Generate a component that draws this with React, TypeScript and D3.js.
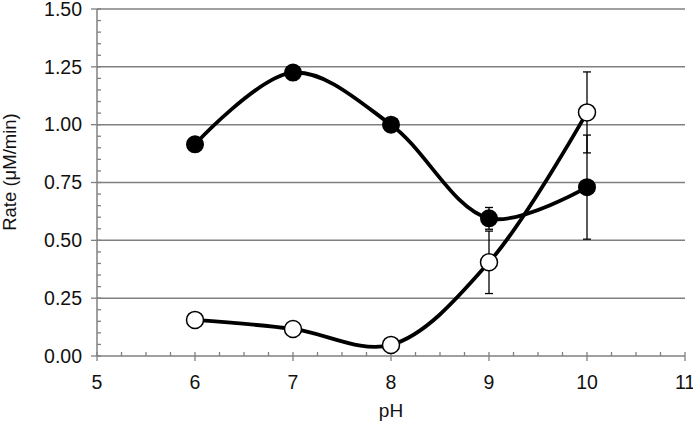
import React from 'react';
import * as d3 from 'd3';

// pH values and measured rates (µM/min)
const phValues = [6, 7, 8, 9, 10];
const filledRates = [0.915, 1.225, 1.0, 0.595, 0.73];
const filledErrors = [0, 0, 0, 0.047, 0.225];
const openRates = [0.156, 0.117, 0.048, 0.405, 1.053];
const openErrors = [0, 0, 0, 0.135, 0.175];

const xTicks = [5, 6, 7, 8, 9, 10, 11];
const yTicks = [0, 0.25, 0.5, 0.75, 1.0, 1.25, 1.5];

const width = 693;
const height = 426;
const axisColor = '#808080';
const font = '"Liberation Sans", Arial, sans-serif';

const App = () => {
  const x = d3.scaleLinear().domain([5, 11]).range([97, 685]);
  const y = d3.scaleLinear().domain([0, 1.5]).range([356, 9]);

  const line = d3
    .line<number>()
    .x((_, i) => x(phValues[i]))
    .y(d => y(d))
    .curve(d3.curveCatmullRom.alpha(0.5));

  const xMinor = d3.range(5, 11.001, 0.25).filter(v => Math.abs(v - Math.round(v)) > 0.01);
  const yMinor = d3.range(0, 1.5001, 0.05).filter(v => Math.abs(v * 4 - Math.round(v * 4)) > 0.01);

  const errorBars = (rates: number[], errs: number[], key: string) =>
    rates.map((r, i) =>
      errs[i] > 0 ? (
        <g key={key + i} stroke="#000" strokeWidth={1.3}>
          <line x1={x(phValues[i])} x2={x(phValues[i])} y1={y(r - errs[i])} y2={y(r + errs[i])} />
          <line x1={x(phValues[i]) - 4} x2={x(phValues[i]) + 4} y1={y(r - errs[i])} y2={y(r - errs[i])} />
          <line x1={x(phValues[i]) - 4} x2={x(phValues[i]) + 4} y1={y(r + errs[i])} y2={y(r + errs[i])} />
        </g>
      ) : null
    );

  return (
    <svg
      width={width}
      height={height}
      style={{ position: 'fixed', left: 0, top: 0, background: '#fff' }}
      fontFamily={font}
    >
      {/* gridlines */}
      {yTicks.filter(t => t > 0).map(t => (
        <line key={'g' + t} x1={x(5)} x2={x(11)} y1={y(t)} y2={y(t)} stroke={axisColor} strokeWidth={1.5} />
      ))}

      {/* axes */}
      <line x1={x(5)} x2={x(5)} y1={y(0)} y2={y(1.5)} stroke={axisColor} strokeWidth={1.5} />
      <line x1={x(5)} x2={x(11)} y1={y(0)} y2={y(0)} stroke={axisColor} strokeWidth={1.5} />

      {yTicks.map(t => (
        <line key={'yt' + t} x1={x(5) - 6} x2={x(5) + 4} y1={y(t)} y2={y(t)} stroke={axisColor} strokeWidth={1.3} />
      ))}
      {yMinor.map(t => (
        <line key={'ym' + t} x1={x(5)} x2={x(5) + 4} y1={y(t)} y2={y(t)} stroke={axisColor} strokeWidth={1.3} />
      ))}
      {xTicks.map(t => (
        <line key={'xt' + t} x1={x(t)} x2={x(t)} y1={y(0) - 4} y2={y(0) + 5} stroke={axisColor} strokeWidth={1.3} />
      ))}
      {xMinor.map(t => (
        <line key={'xm' + t} x1={x(t)} x2={x(t)} y1={y(0) - 4} y2={y(0)} stroke={axisColor} strokeWidth={1.3} />
      ))}

      {yTicks.map(t => (
        <text key={'yl' + t} x={82} y={y(t)} dy="0.35em" textAnchor="end" fontSize={19.5} fill="#111">
          {t.toFixed(2)}
        </text>
      ))}
      {xTicks.map(t => (
        <text key={'xl' + t} x={x(t)} y={389} textAnchor="middle" fontSize={19.5} fill="#111">
          {t}
        </text>
      ))}

      <text x={x(8)} y={417} textAnchor="middle" fontSize={19} fill="#111">pH</text>
      <text transform={`translate(16, 172) rotate(-90)`} textAnchor="middle" fontSize={18.5} fill="#111">
        Rate (μM/min)
      </text>

      {/* curves */}
      <path d={line(filledRates) || ''} fill="none" stroke="#000" strokeWidth={3.8} />
      <path d={line(openRates) || ''} fill="none" stroke="#000" strokeWidth={3.8} />

      {errorBars(filledRates, filledErrors, 'fe')}
      {errorBars(openRates, openErrors, 'oe')}

      {filledRates.map((r, i) => (
        <circle key={'f' + i} cx={x(phValues[i])} cy={y(r)} r={9} fill="#000" />
      ))}
      {openRates.map((r, i) => (
        <circle key={'o' + i} cx={x(phValues[i])} cy={y(r)} r={8.5} fill="#fff" stroke="#000" strokeWidth={1.5} />
      ))}
    </svg>
  );
};

export default App;
